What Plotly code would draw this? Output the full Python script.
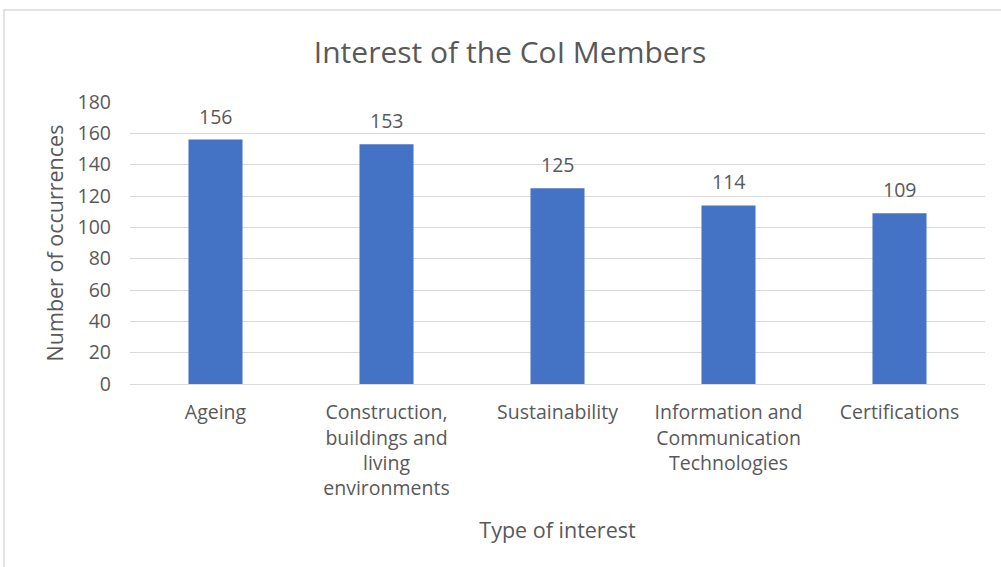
import plotly.graph_objects as go

categories = ["Ageing", "Construction,<br>buildings and<br>living<br>environments", "Sustainability",
              "Information and<br>Communication<br>Technologies", "Certifications"]
values = [156, 153, 125, 114, 109]
y_ticks = [0, 20, 40, 60, 80, 100, 120, 140, 160, 180]

FONT = "Open Sans"
GREY = "#595959"

fig = go.Figure(go.Bar(
    x=categories, y=values, marker_color="#4472C4", marker_line_width=0,
))

for c, v in zip(categories, values):
    fig.add_annotation(x=c, y=v, text=str(v), showarrow=False, yanchor="bottom", yshift=8,
                       font=dict(family=FONT, size=19.5, color=GREY))

fig.update_layout(
    width=1001, height=567,
    margin=dict(l=130, r=16, t=102, b=183),
    paper_bgcolor="white", plot_bgcolor="white",
    bargap=0.684,
    showlegend=False,
    title=dict(text="Interest of the CoI Members", x=510/1001, xanchor="center", xref="container",
               y=1 - 52/567, yanchor="middle", yref="container",
               font=dict(family=FONT, size=30, color=GREY)),
    font=dict(family=FONT, color=GREY),
)
fig.update_yaxes(range=[0, 180], tickvals=y_ticks, showgrid=True, gridcolor="#d9d9d9", gridwidth=1,
                 zeroline=False, showline=False, ticklabelstandoff=18,
                 tickfont=dict(family=FONT, size=19.5, color=GREY),
                 title=dict(text="Number of occurrences", standoff=8,
                            font=dict(family=FONT, size=21.5, color=GREY)))
fig.update_xaxes(showline=True, linecolor="#d9d9d9", linewidth=1, ticks="",
                 ticklabelstandoff=11,
                 tickfont=dict(family=FONT, size=19.5, color=GREY),
                 title=dict(text="Type of interest", standoff=22,
                            font=dict(family=FONT, size=21.5, color=GREY)))

fig.add_shape(type="rect", xref="paper", yref="paper",
              x0=(4 - 130) / 855, x1=(1010 - 130) / 855,
              y0=(384 - 580) / 282, y1=(384 - 10) / 282,
              line=dict(color="#d9d9d9", width=1.5), fillcolor="rgba(0,0,0,0)", layer="below")

fig.write_html("out.html")
